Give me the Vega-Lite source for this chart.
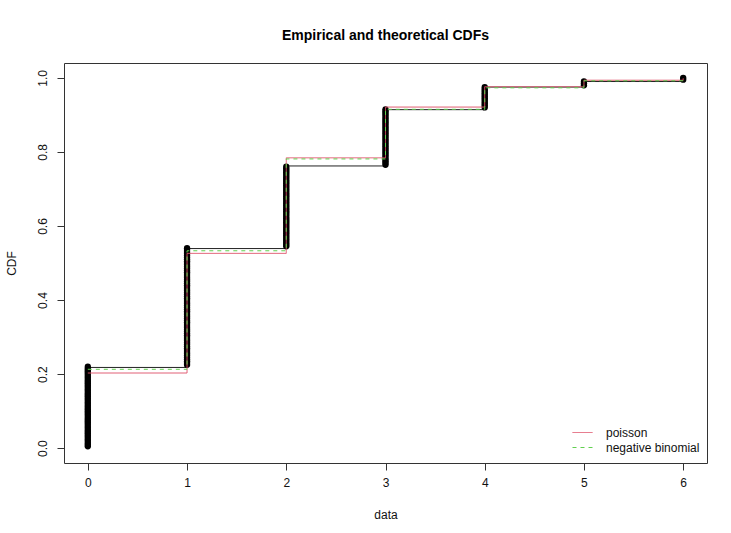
{
  "$schema": "https://vega.github.io/schema/vega-lite/v6.json",
  "width": 643,
  "height": 400,
  "autosize": "none",
  "padding": {"left": 64, "top": 63, "right": 24, "bottom": 70},
  "background": "white",
  "title": {"text": "Empirical and theoretical CDFs", "fontSize": 14, "fontWeight": "bold", "font": "Liberation Sans", "color": "black", "offset": 20, "anchor": "middle"},
  "config": {
    "view": {"stroke": "#333", "strokeWidth": 1},
    "axis": {"labelFont": "Liberation Sans", "titleFont": "Liberation Sans", "labelFontSize": 12, "titleFontSize": 12, "titleFontWeight": "normal", "labelColor": "#111", "titleColor": "#111", "tickColor": "#333", "grid": false, "domain": false, "tickSize": 7},
    "legend": {"labelFont": "Liberation Sans", "labelFontSize": 12, "labelColor": "#111", "padding": 0}
  },
  "datasets": {
    "emp": [
      {"x": 0, "p": 0.218}, {"x": 1, "p": 0.539}, {"x": 2, "p": 0.762}, {"x": 3, "p": 0.914}, {"x": 4, "p": 0.975}, {"x": 5, "p": 0.99}, {"x": 6, "p": 1.0}
    ],
    "fit": [
      {"dist": "poisson", "x": 0, "p": 0.203}, {"dist": "poisson", "x": 1, "p": 0.526}, {"dist": "poisson", "x": 2, "p": 0.784}, {"dist": "poisson", "x": 3, "p": 0.921}, {"dist": "poisson", "x": 4, "p": 0.976}, {"dist": "poisson", "x": 5, "p": 0.9935}, {"dist": "poisson", "x": 6, "p": 0.9985},
      {"dist": "negative binomial", "x": 0, "p": 0.213}, {"dist": "negative binomial", "x": 1, "p": 0.533}, {"dist": "negative binomial", "x": 2, "p": 0.781}, {"dist": "negative binomial", "x": 3, "p": 0.915}, {"dist": "negative binomial", "x": 4, "p": 0.973}, {"dist": "negative binomial", "x": 5, "p": 0.992}, {"dist": "negative binomial", "x": 6, "p": 0.998}
    ],
    "pts": [
      {"x":0,"p":0.005},{"x":0,"p":0.01},{"x":0,"p":0.015},{"x":0,"p":0.02},{"x":0,"p":0.025},{"x":0,"p":0.03},{"x":0,"p":0.035},{"x":0,"p":0.04},{"x":0,"p":0.045},{"x":0,"p":0.05},
      {"x":0,"p":0.055},{"x":0,"p":0.06},{"x":0,"p":0.065},{"x":0,"p":0.07},{"x":0,"p":0.075},{"x":0,"p":0.08},{"x":0,"p":0.085},{"x":0,"p":0.09},{"x":0,"p":0.095},{"x":0,"p":0.1},
      {"x":0,"p":0.105},{"x":0,"p":0.11},{"x":0,"p":0.115},{"x":0,"p":0.12},{"x":0,"p":0.125},{"x":0,"p":0.13},{"x":0,"p":0.135},{"x":0,"p":0.14},{"x":0,"p":0.145},{"x":0,"p":0.15},
      {"x":0,"p":0.155},{"x":0,"p":0.16},{"x":0,"p":0.165},{"x":0,"p":0.17},{"x":0,"p":0.175},{"x":0,"p":0.18},{"x":0,"p":0.185},{"x":0,"p":0.19},{"x":0,"p":0.195},{"x":0,"p":0.2},
      {"x":0,"p":0.205},{"x":0,"p":0.21},{"x":0,"p":0.215},{"x":0,"p":0.22},
      {"x":1,"p":0.225},{"x":1,"p":0.23},{"x":1,"p":0.235},{"x":1,"p":0.24},{"x":1,"p":0.245},{"x":1,"p":0.25},{"x":1,"p":0.255},{"x":1,"p":0.26},{"x":1,"p":0.265},{"x":1,"p":0.27},
      {"x":1,"p":0.275},{"x":1,"p":0.28},{"x":1,"p":0.285},{"x":1,"p":0.29},{"x":1,"p":0.295},{"x":1,"p":0.3},{"x":1,"p":0.305},{"x":1,"p":0.31},{"x":1,"p":0.315},{"x":1,"p":0.32},
      {"x":1,"p":0.325},{"x":1,"p":0.33},{"x":1,"p":0.335},{"x":1,"p":0.34},{"x":1,"p":0.345},{"x":1,"p":0.35},{"x":1,"p":0.355},{"x":1,"p":0.36},{"x":1,"p":0.365},{"x":1,"p":0.37},
      {"x":1,"p":0.375},{"x":1,"p":0.38},{"x":1,"p":0.385},{"x":1,"p":0.39},{"x":1,"p":0.395},{"x":1,"p":0.4},{"x":1,"p":0.405},{"x":1,"p":0.41},{"x":1,"p":0.415},{"x":1,"p":0.42},
      {"x":1,"p":0.425},{"x":1,"p":0.43},{"x":1,"p":0.435},{"x":1,"p":0.44},{"x":1,"p":0.445},{"x":1,"p":0.45},{"x":1,"p":0.455},{"x":1,"p":0.46},{"x":1,"p":0.465},{"x":1,"p":0.47},
      {"x":1,"p":0.475},{"x":1,"p":0.48},{"x":1,"p":0.485},{"x":1,"p":0.49},{"x":1,"p":0.495},{"x":1,"p":0.5},{"x":1,"p":0.505},{"x":1,"p":0.51},{"x":1,"p":0.515},{"x":1,"p":0.52},
      {"x":1,"p":0.525},{"x":1,"p":0.53},{"x":1,"p":0.535},{"x":1,"p":0.54},
      {"x":2,"p":0.545},{"x":2,"p":0.55},{"x":2,"p":0.555},{"x":2,"p":0.56},{"x":2,"p":0.565},{"x":2,"p":0.57},{"x":2,"p":0.575},{"x":2,"p":0.58},{"x":2,"p":0.585},{"x":2,"p":0.59},
      {"x":2,"p":0.595},{"x":2,"p":0.6},{"x":2,"p":0.605},{"x":2,"p":0.61},{"x":2,"p":0.615},{"x":2,"p":0.62},{"x":2,"p":0.625},{"x":2,"p":0.63},{"x":2,"p":0.635},{"x":2,"p":0.64},
      {"x":2,"p":0.645},{"x":2,"p":0.65},{"x":2,"p":0.655},{"x":2,"p":0.66},{"x":2,"p":0.665},{"x":2,"p":0.67},{"x":2,"p":0.675},{"x":2,"p":0.68},{"x":2,"p":0.685},{"x":2,"p":0.69},
      {"x":2,"p":0.695},{"x":2,"p":0.7},{"x":2,"p":0.705},{"x":2,"p":0.71},{"x":2,"p":0.715},{"x":2,"p":0.72},{"x":2,"p":0.725},{"x":2,"p":0.73},{"x":2,"p":0.735},{"x":2,"p":0.74},
      {"x":2,"p":0.745},{"x":2,"p":0.75},{"x":2,"p":0.755},{"x":2,"p":0.76},
      {"x":3,"p":0.765},{"x":3,"p":0.77},{"x":3,"p":0.775},{"x":3,"p":0.78},{"x":3,"p":0.785},{"x":3,"p":0.79},{"x":3,"p":0.795},{"x":3,"p":0.8},{"x":3,"p":0.805},{"x":3,"p":0.81},
      {"x":3,"p":0.815},{"x":3,"p":0.82},{"x":3,"p":0.825},{"x":3,"p":0.83},{"x":3,"p":0.835},{"x":3,"p":0.84},{"x":3,"p":0.845},{"x":3,"p":0.85},{"x":3,"p":0.855},{"x":3,"p":0.86},
      {"x":3,"p":0.865},{"x":3,"p":0.87},{"x":3,"p":0.875},{"x":3,"p":0.88},{"x":3,"p":0.885},{"x":3,"p":0.89},{"x":3,"p":0.895},{"x":3,"p":0.9},{"x":3,"p":0.905},{"x":3,"p":0.91},
      {"x":3,"p":0.915},
      {"x":4,"p":0.92},{"x":4,"p":0.925},{"x":4,"p":0.93},{"x":4,"p":0.935},{"x":4,"p":0.94},{"x":4,"p":0.945},{"x":4,"p":0.95},{"x":4,"p":0.955},{"x":4,"p":0.96},{"x":4,"p":0.965},
      {"x":4,"p":0.97},{"x":4,"p":0.975},
      {"x":5,"p":0.98},{"x":5,"p":0.985},{"x":5,"p":0.99},
      {"x":6,"p":0.995},{"x":6,"p":1.0}
    ]
  },
  "encoding": {
    "x": {"field": "x", "type": "quantitative", "scale": {"domain": [-0.24, 6.24], "nice": false, "zero": false},
      "axis": {"values": [0, 1, 2, 3, 4, 5, 6], "format": "d", "title": "data", "labelPadding": 7, "titlePadding": 21}},
    "y": {"field": "p", "type": "quantitative", "scale": {"domain": [-0.04, 1.04], "nice": false, "zero": false},
      "axis": {"values": [0, 0.2, 0.4, 0.6, 0.8, 1.0], "format": ".1f", "title": "CDF", "labelAngle": 270, "labelAlign": "center", "labelBaseline": "bottom", "labelPadding": 8, "titlePadding": 18}}
  },
  "layer": [
    {
      "data": {"name": "emp"},
      "mark": {"type": "line", "interpolate": "step-after", "color": "#222", "strokeWidth": 1}
    },
    {
      "data": {"name": "pts"},
      "mark": {"type": "circle", "size": 40, "color": "black", "opacity": 1}
    },
    {
      "data": {"name": "fit"},
      "mark": {"type": "line", "interpolate": "step-after", "strokeWidth": 1},
      "encoding": {
        "color": {"field": "dist", "type": "nominal", "scale": {"domain": ["poisson", "negative binomial"], "range": ["#DF536B", "#61D04F"]},
          "legend": {"orient": "none", "legendX": 508, "legendY": 362, "title": null, "symbolType": "stroke", "symbolSize": 400, "symbolStrokeWidth": 1, "labelOffset": 13, "rowPadding": 0, "clipHeight": 15,
            "encode": {"symbols": {"update": {"strokeDash": {"scale": "strokeDash", "field": "value"}}}}}},
        "strokeDash": {"field": "dist", "type": "nominal", "scale": {"domain": ["poisson", "negative binomial"], "range": [[1, 0], [4, 4]]}, "legend": null}
      }
    }
  ]
}
